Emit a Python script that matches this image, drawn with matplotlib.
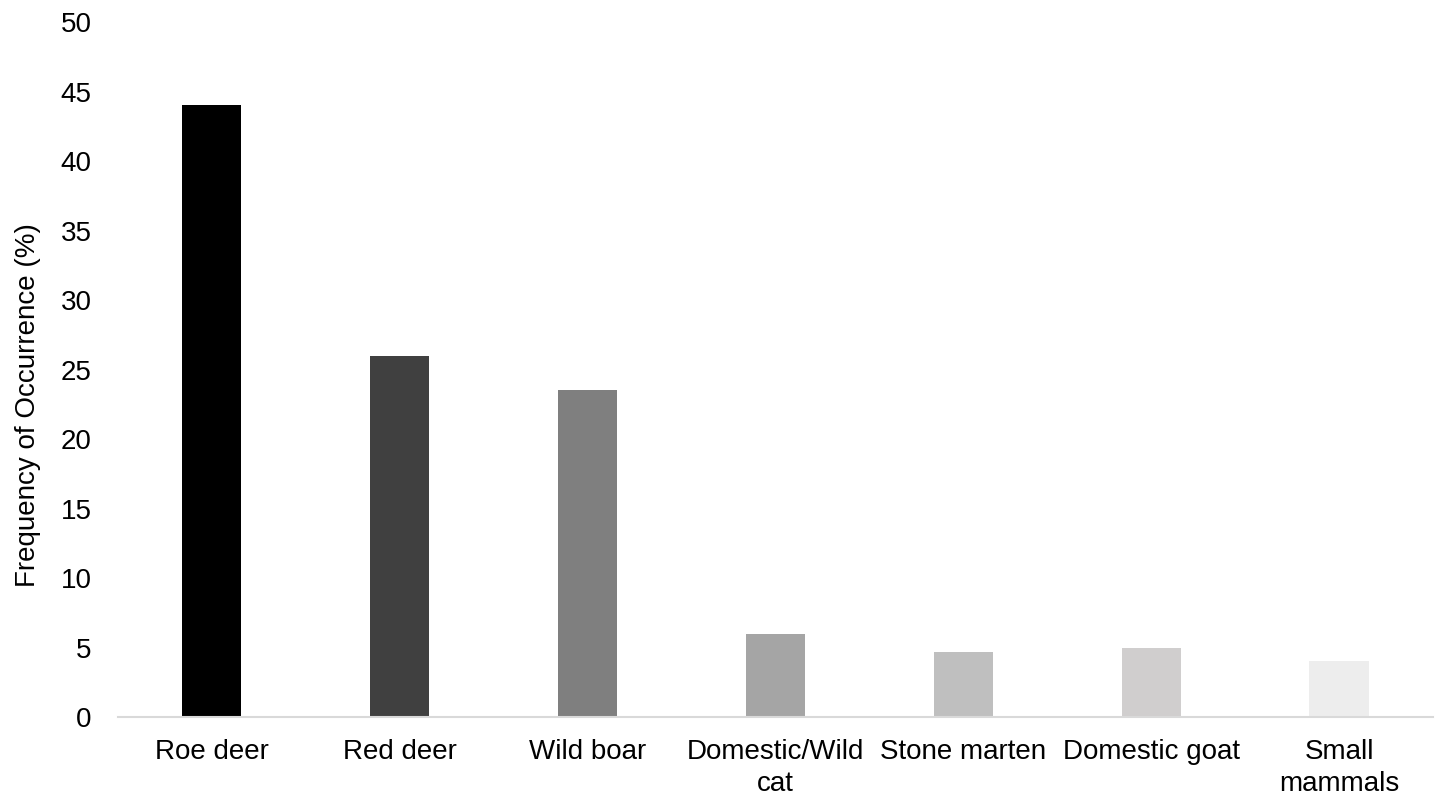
import matplotlib
matplotlib.use("Agg")
import matplotlib.pyplot as plt

categories = ["Roe deer", "Red deer", "Wild boar", "Domestic/Wild\ncat",
              "Stone marten", "Domestic goat", "Small\nmammals"]
values = [44.0, 26.0, 23.5, 6.0, 4.7, 5.0, 4.0]
colors = ["#000000", "#404040", "#7f7f7f", "#a5a5a5", "#bfbfbf", "#d0cece", "#ededed"]
yticks = [0, 5, 10, 15, 20, 25, 30, 35, 40, 45, 50]

plt.rcParams['font.family'] = ['Liberation Sans', 'DejaVu Sans']

fig = plt.figure(figsize=(14.35, 7.95), dpi=100)
ax = fig.add_axes([0.0822, 0.098, 0.9164, 0.8743])
x = list(range(len(categories)))
ax.bar(x, values, width=0.315, color=colors, zorder=2)
ax.set_xlim(-0.5, len(categories) - 0.5)
ax.set_ylim(0, 50)
ax.set_yticks(yticks)
ax.set_yticklabels([str(t) for t in yticks], fontsize=20)
ax.set_xticks(x)
ax.set_xticklabels(categories, fontsize=20, linespacing=1.3)
ax.tick_params(axis='both', length=0)
ax.tick_params(axis='y', pad=19)
ax.tick_params(axis='x', pad=16)
for s in ['top', 'right', 'left']:
    ax.spines[s].set_visible(False)
ax.spines['bottom'].set_color('#d9d9d9')
ax.spines['bottom'].set_linewidth(1.5)
fig.text(28 / 1435, 1 - 405 / 795, "Frequency of Occurrence (%)", fontsize=20,
         rotation=90, ha='center', va='center')
fig.savefig("out.png", dpi=100)
